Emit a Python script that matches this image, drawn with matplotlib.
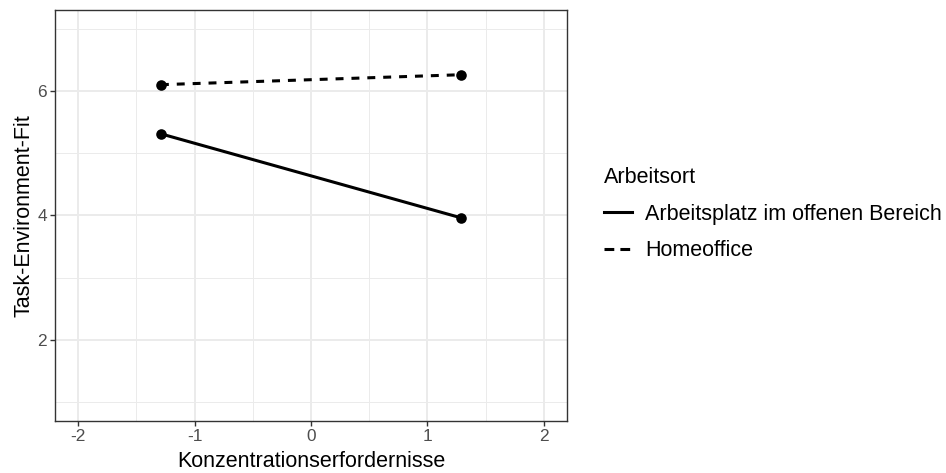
import matplotlib
matplotlib.use("Agg")
import matplotlib.pyplot as plt
from matplotlib.lines import Line2D
import numpy as np

plt.rcParams['font.family'] = ['Liberation Sans', 'DejaVu Sans']

# data
konz = [-1.29, 1.29]
fit_offen = [5.31, 3.96]
fit_home = [6.10, 6.26]
gruppen = ["Arbeitsplatz im offenen Bereich", "Homeoffice"]
x_ticks = [-2, -1, 0, 1, 2]
y_ticks = [2, 4, 6]

fig = plt.figure(figsize=(9.46, 4.73), dpi=100)
ax = fig.add_axes([55/946, 1 - 420.7/473, (567 - 55)/946, (420.7 - 10)/473])

ax.plot(konz, fit_offen, color='black', lw=2.2, ls='-', solid_capstyle='butt', zorder=3)
ax.plot(konz, fit_home, color='black', lw=2.2, ls=(0, (2.6, 2.6)), zorder=3)
ax.scatter(konz + konz, fit_offen + fit_home, s=58, color='black', zorder=4, linewidths=0)

ax.set_xlim(-2.2, 2.2)
ax.set_ylim(0.7, 7.3)
ax.set_xticks(x_ticks)
ax.set_xticklabels(["-2", "-1", "0", "1", "2"])
ax.set_yticks(y_ticks)
ax.set_xticks(np.arange(-1.5, 2.0, 1.0), minor=True)
ax.set_yticks([1, 3, 5, 7], minor=True)

ax.grid(which='major', color='#EBEBEB', lw=1.4, zorder=0)
ax.grid(which='minor', color='#EBEBEB', lw=0.7, zorder=0)
ax.set_axisbelow(True)
ax.tick_params(which='major', length=3.8, width=1.0, color='#333333', labelcolor='#4D4D4D', labelsize=12.4, pad=2)
ax.tick_params(which='minor', length=0)
for s in ax.spines.values():
    s.set_color('#333333')
    s.set_linewidth(1.0)

ax.set_xlabel("Konzentrationserfordernisse", fontsize=15.5, labelpad=5.5)
ax.set_ylabel("Task-Environment-Fit", fontsize=15.5, labelpad=2)

handles = [Line2D([], [], color='black', lw=2.2, ls='-'),
           Line2D([], [], color='black', lw=2.2, ls=(0, (3.2, 2.0)))]
leg = fig.legend(handles, gruppen, title="Arbeitsort", loc='upper left',
                 bbox_to_anchor=(589/946, 1 - 152/473), frameon=False,
                 fontsize=15.5, title_fontsize=15.5, handlelength=1.3,
                 handletextpad=0.6, labelspacing=0.72, borderpad=0.2)
leg._legend_box.align = 'left'

fig.savefig("out.png", dpi=100)
